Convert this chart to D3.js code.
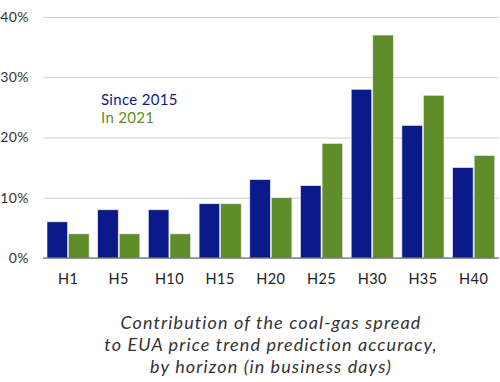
<!DOCTYPE html>
<html><head><meta charset="utf-8">
<script src="https://cdn.jsdelivr.net/npm/d3@7"></script>
<style>body{margin:0;background:#fff}svg{display:block}</style>
</head><body>
<script>
const categories = ["H1","H5","H10","H15","H20","H25","H30","H35","H40"];
const since2015 = [6,8,8,9,13,12,28,22,15];
const in2021 = [4,4,4,9,10,19,37,27,17];
const seriesNames = ["Since 2015","In 2021"];
const yTicks = [0,10,20,30,40];
const titleLines = ["Contribution of the coal-gas spread","to EUA price trend prediction accuracy,","by horizon (in business days)"];
const colors = ["#0A1A8A","#5E8D2A"];

const W=500,H=382;
const svg=d3.select("body").append("svg").attr("width",W).attr("height",H);
const font="Lato, 'Open Sans', sans-serif";
const y=d3.scaleLinear().domain([0,40]).range([258,17]);
const x=d3.scaleBand().domain(categories).range([42.7,499]).paddingInner(0.17).paddingOuter(0.085);
const xi=d3.scaleBand().domain([0,1]).range([0,x.bandwidth()]).paddingInner(0.05);

// gridlines
const yAxis=d3.axisLeft(y).tickValues(yTicks).tickSize(-(499-43)).tickFormat(d=>d+"%");
const gy=svg.append("g").attr("transform","translate(43,0)").call(yAxis);
gy.select(".domain").remove();
gy.selectAll(".tick line").attr("stroke","#cfcfcf").attr("stroke-width",1);
gy.selectAll(".tick text").attr("x",-14).attr("fill","#333").style("font-family",font).style("font-size","14px").style("letter-spacing","0.4px");

const data=categories.map((c,i)=>({c,v:[since2015[i],in2021[i]]}));
const g=svg.append("g");
g.selectAll("g.grp").data(data).join("g").attr("class","grp")
 .attr("transform",d=>`translate(${x(d.c)},0)`)
 .selectAll("rect").data(d=>d.v.map((v,k)=>({v,k}))).join("rect")
 .attr("x",d=>xi(d.k)).attr("width",xi.bandwidth())
 .attr("y",d=>y(d.v)).attr("height",d=>y(0)-y(d.v))
 .attr("fill",d=>colors[d.k]).attr("stroke","#e8e8f0").attr("stroke-width",0.6);

// baseline
svg.append("line").attr("x1",43).attr("x2",499).attr("y1",y(0)).attr("y2",y(0)).attr("stroke","#555").attr("stroke-width",1.2);

// x axis labels
const xAxis=d3.axisBottom(x).tickSize(0).tickPadding(16);
const gx=svg.append("g").attr("transform",`translate(0,${y(0)})`).call(xAxis);
gx.select(".domain").remove();
gx.selectAll(".tick text").attr("fill","#222").style("font-family",font).style("font-size","14.5px").style("letter-spacing","0.4px");

// legend
seriesNames.forEach((s,i)=>{
  svg.append("text").attr("x",101).attr("y",105+i*18).attr("fill",colors[i])
   .style("font-family",font).style("font-size","15px").style("letter-spacing","0.3px").text(s);
});

// title
titleLines.forEach((t,i)=>{
  svg.append("text").attr("x",271).attr("y",329+i*22).attr("text-anchor","middle")
   .attr("fill","#333").style("font-family",font).style("font-style","italic").style("font-size","18px").style("letter-spacing","1.1px").text(t);
});
</script>
</body></html>
